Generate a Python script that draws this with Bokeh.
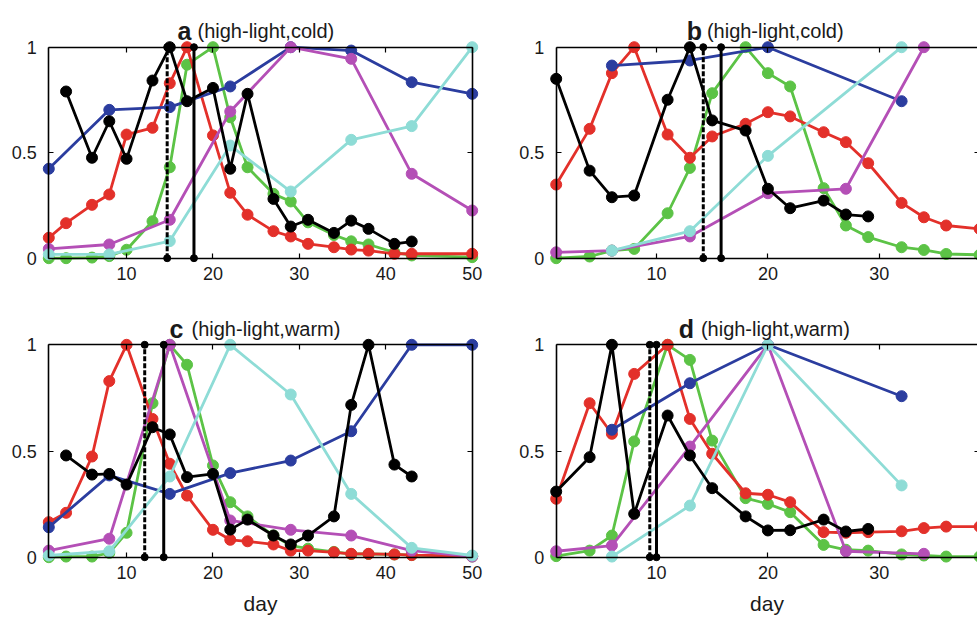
from bokeh.plotting import figure
from bokeh.models import Label, LinearAxis, FixedTicker, Range1d
from bokeh.layouts import column, row
from bokeh.embed import file_html
from bokeh.resources import INLINE

# ---------------- data ----------------
# sampling days
ac_days = [1, 3, 6, 8, 10, 13, 15, 17, 20, 22, 24, 27, 29, 31, 34, 36, 38, 41, 43, 50]
ac_black_days = [3, 6, 8, 10, 13, 15, 17, 20, 22, 24, 27, 29, 31, 34, 36, 38, 41, 43]
ac_week_days = [1, 8, 15, 22, 29, 36, 43, 50]
bd_days = [1, 4, 6, 8, 11, 13, 15, 18, 20, 22, 25, 27, 29, 32, 34, 36, 39]
bd_black_days = [1, 4, 6, 8, 11, 13, 15, 18, 20, 22, 25, 27, 29]
bd_week_days = [6, 13, 20, 32]
bd_magenta_days = [1, 6, 13, 20, 27, 34]

# panel a
a_red = [0.097, 0.166, 0.253, 0.302, 0.586, 0.618, 0.829, 1.0, 0.582, 0.31, 0.206, 0.128, 0.103, 0.068, 0.052, 0.041, 0.036, 0.021, 0.021, 0.021]
a_green = [0.0, 0.0, 0.003, 0.01, 0.04, 0.175, 0.431, 0.917, 1.0, 0.668, 0.431, 0.305, 0.269, 0.17, 0.11, 0.08, 0.065, 0.028, 0.013, 0.005]
a_black = [0.79, 0.476, 0.649, 0.471, 0.842, 1.0, 0.744, 0.807, 0.424, 0.779, 0.281, 0.15, 0.182, 0.12, 0.178, 0.139, 0.068, 0.079]
a_blue = [0.424, 0.703, 0.716, 0.814, 1.0, 0.984, 0.834, 0.779]
a_magenta = [0.044, 0.065, 0.182, 0.695, 1.0, 0.945, 0.40, 0.226]
a_cyan = [0.018, 0.018, 0.081, 0.534, 0.316, 0.561, 0.626, 1.0]
a_vlines = [14.7, 17.8]

# panel b
b_red = [0.349, 0.613, 0.877, 1.0, 0.586, 0.476, 0.577, 0.637, 0.692, 0.672, 0.597, 0.55, 0.45, 0.262, 0.194, 0.155, 0.139]
b_green = [0.0, 0.008, 0.036, 0.044, 0.213, 0.428, 0.782, 1.0, 0.877, 0.814, 0.332, 0.155, 0.1, 0.052, 0.039, 0.02, 0.016]
b_black = [0.85, 0.415, 0.289, 0.297, 0.751, 1.0, 0.653, 0.605, 0.329, 0.237, 0.273, 0.207, 0.198]
b_blue = [0.913, 0.937, 1.0, 0.744]
b_magenta = [0.028, 0.036, 0.103, 0.308, 0.329, 1.0]
b_cyan = [0.036, 0.128, 0.485, 1.0]
b_vlines = [14.2, 15.8]

# panel c
c_red = [0.165, 0.209, 0.474, 0.829, 1.0, 0.651, 0.44, 0.29, 0.129, 0.082, 0.075, 0.06, 0.031, 0.031, 0.023, 0.016, 0.016, 0.013, 0.01, 0.005]
c_green = [0.0, 0.003, 0.003, 0.02, 0.115, 0.725, 1.0, 0.906, 0.432, 0.259, 0.192, 0.102, 0.055, 0.04, 0.025, 0.015, 0.015, 0.013, 0.01, 0.003]
c_black = [0.479, 0.389, 0.392, 0.342, 0.612, 0.578, 0.377, 0.392, 0.13, 0.177, 0.102, 0.06, 0.102, 0.192, 0.717, 1.0, 0.436, 0.38]
c_blue = [0.141, 0.385, 0.298, 0.396, 0.455, 0.593, 1.0, 1.0]
c_magenta = [0.031, 0.087, 1.0, 0.173, 0.129, 0.102, 0.031, 0.003]
c_cyan = [0.008, 0.028, 0.38, 1.0, 0.766, 0.298, 0.044, 0.008]
c_vlines = [12.1, 14.3]

# panel d
d_red = [0.275, 0.725, 0.581, 0.863, 1.0, 0.651, 0.487, 0.301, 0.294, 0.259, 0.118, 0.115, 0.118, 0.122, 0.137, 0.144, 0.144]
d_green = [0.005, 0.031, 0.102, 0.545, 1.0, 0.929, 0.549, 0.278, 0.251, 0.212, 0.058, 0.035, 0.031, 0.013, 0.008, 0.003, 0.003]
d_black = [0.309, 0.471, 1.0, 0.204, 0.667, 0.479, 0.325, 0.192, 0.126, 0.127, 0.177, 0.121, 0.133]
d_blue = [0.6, 0.819, 1.0, 0.758]
d_magenta = [0.028, 0.055, 0.521, 1.0, 0.028, 0.016]
d_cyan = [0.003, 0.243, 1.0, 0.338]
d_vlines = [9.4, 10.0]

titles = [("a", "(high-light,cold)"), ("b", "(high-light,cold)"),
          ("c", "(high-light,warm)"), ("d", "(high-light,warm)")]
x_limits_wide = (1, 50)
x_limits_narrow = (1, 39)
x_ticks_wide = [10, 20, 30, 40, 50]
x_ticks_narrow = [10, 20, 30]
y_ticks = [0, 0.5, 1]
y_tick_labels = {0: "0", 0.5: "0.5", 1: "1"}
x_label = "day"

# ---------------- style ----------------
FONT = "Liberation Sans"
TXT = "#1a1a1a"
COL = {"green": "#5cc346", "red": "#e3302a", "blue": "#2b3d9f",
       "magenta": "#b44fb6", "cyan": "#8edcd6", "black": "#000000"}


def styled_axis(loc, bounds, ticks, show_labels):
    ax = LinearAxis(ticker=FixedTicker(ticks=ticks), fixed_location=loc, bounds=bounds)
    ax.major_tick_in = 5
    ax.major_tick_out = 0
    ax.major_tick_line_width = 1.2
    ax.minor_tick_line_color = None
    ax.axis_line_width = 1.6
    ax.axis_line_color = "black"
    ax.major_label_text_font = FONT
    ax.major_label_text_font_size = "18px"
    if show_labels:
        ax.major_label_text_color = TXT
    else:
        ax.major_label_text_color = None
    return ax


def make_panel(series, vlines, xlim, xticks, title, fig_w, fig_h, box, title_off, show_xlabel):
    # box: pixel left/right/top/bottom of the [xlim] x [0,1] data box inside the figure
    L, R, T, B = box
    ppx = (R - L) / (xlim[1] - xlim[0])
    ppy = (B - T) / 1.0
    xr = Range1d(xlim[0] - L / ppx, xlim[0] + (fig_w - L) / ppx)
    yr = Range1d(0 - (fig_h - B) / ppy, 1 + T / ppy)
    p = figure(width=fig_w, height=fig_h, x_range=xr, y_range=yr,
               output_backend="svg", toolbar_location=None,
               x_axis_location=None, y_axis_location=None,
               min_border_left=0, min_border_right=0, min_border_top=0, min_border_bottom=0)
    p.xgrid.visible = False
    p.ygrid.visible = False
    p.outline_line_color = None
    p.background_fill_color = "white"
    p.border_fill_color = "white"

    bottom = styled_axis(0, xlim, xticks, True)
    bottom.major_label_standoff = 9
    if show_xlabel:
        bottom.axis_label = x_label
        bottom.axis_label_text_font = FONT
        bottom.axis_label_text_font_size = "21px"
        bottom.axis_label_text_font_style = "normal"
        bottom.axis_label_text_color = TXT
        bottom.axis_label_standoff = 9
    left = styled_axis(xlim[0], (0, 1), y_ticks, True)
    left.major_label_overrides = y_tick_labels
    left.major_label_standoff = 12
    top = styled_axis(1, xlim, xticks, False)
    right = styled_axis(xlim[1], (0, 1), y_ticks, False)
    p.add_layout(bottom, "below")
    p.add_layout(left, "left")
    p.add_layout(top, "above")
    p.add_layout(right, "right")

    for name, xs, ys in series:
        p.line(xs, ys, line_color=COL[name], line_width=2.8)
        p.scatter(xs, ys, marker="circle", size=11, fill_color=COL[name], line_color=COL[name])

    # dashed and solid vertical markers
    dashes = ["5 2", "solid"]
    for xv, dash in zip(vlines, dashes):
        p.segment(x0=[xv], y0=[0], x1=[xv], y1=[1], line_color="black", line_width=3, line_dash=dash)
        p.scatter([xv, xv], [0, 1], marker="circle", size=7, fill_color="black", line_color="black")

    letter, rest = title
    cx = (xlim[0] + xlim[1]) / 2
    p.add_layout(Label(x=cx + title_off[0] / ppx, y=1.075, text=letter, text_font=FONT,
                       text_font_style="bold", text_font_size="25px", text_align="right",
                       text_baseline="alphabetic", text_color=TXT))
    p.add_layout(Label(x=cx + title_off[1] / ppx, y=1.075, text=rest, text_font=FONT,
                       text_font_size="20px", text_align="left", text_baseline="alphabetic",
                       text_color=TXT))
    return p


def series_ac(red, green, blue, magenta, cyan, black):
    return [("green", ac_days, green), ("red", ac_days, red), ("blue", ac_week_days, blue),
            ("magenta", ac_week_days, magenta), ("cyan", ac_week_days, cyan),
            ("black", ac_black_days, black)]


def series_bd(red, green, blue, magenta, cyan, black):
    return [("green", bd_days, green), ("red", bd_days, red), ("blue", bd_week_days, blue),
            ("magenta", bd_magenta_days, magenta), ("cyan", bd_week_days, cyan),
            ("black", bd_black_days, black)]


pa = make_panel(series_ac(a_red, a_green, a_blue, a_magenta, a_cyan, a_black), a_vlines,
                x_limits_wide, x_ticks_wide, titles[0], 490, 300,
                (48.3, 471.7, 46.7, 257.7), (-69, -63), False)
pb = make_panel(series_bd(b_red, b_green, b_blue, b_magenta, b_cyan, b_black), b_vlines,
                x_limits_narrow, x_ticks_narrow, titles[1], 487, 300,
                (65.7, 489.1, 46.7, 257.7), (-66, -61), False)
pc = make_panel(series_ac(c_red, c_green, c_blue, c_magenta, c_cyan, c_black), c_vlines,
                x_limits_wide, x_ticks_wide, titles[2], 490, 319,
                (48.3, 471.7, 44.3, 256.7), (-77, -69), True)
pd = make_panel(series_bd(d_red, d_green, d_blue, d_magenta, d_cyan, d_black), d_vlines,
                x_limits_narrow, x_ticks_narrow, titles[3], 487, 319,
                (65.7, 489.1, 44.3, 256.7), (-74, -67), True)

layout = column(row(pa, pb, spacing=0), row(pc, pd, spacing=0), spacing=0)
open("out.html", "w").write(file_html(layout, INLINE))
